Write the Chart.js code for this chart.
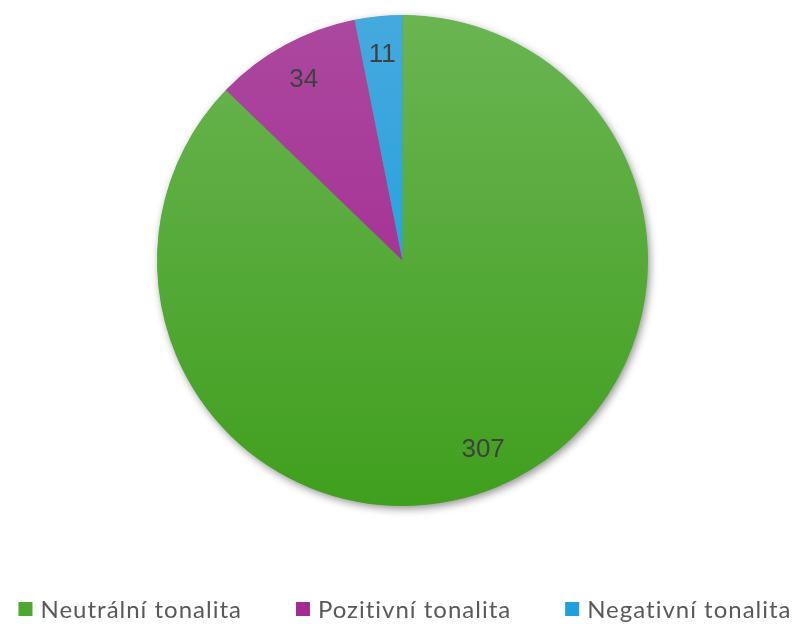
<!DOCTYPE html>
<html>
<head>
<meta charset="utf-8">
<script src="https://cdn.jsdelivr.net/npm/chart.js@4/dist/chart.umd.min.js"></script>
<style>
html,body{margin:0;padding:0;background:#fff;}
#wrap{width:800px;height:624px;position:relative;}
</style>
</head>
<body>
<div id="wrap"><canvas id="c" width="800" height="624"></canvas></div>
<script>
const categories = ["Neutrální tonalita", "Pozitivní tonalita", "Negativní tonalita"];
const values = [307, 34, 11];
const colorTop = ["#6ab552", "#ac489f", "#45a9de"];
const colorBottom = ["#409f1e", "#a1218d", "#0e9cdb"];
const legendColors = ["#4ea82f", "#a52a92", "#1fa0dc"];

function makeGrad(chart, i) {
  const a = chart.chartArea;
  if (!a) return colorBottom[i];
  const g = chart.ctx.createLinearGradient(0, a.top, 0, a.bottom);
  g.addColorStop(0, colorTop[i]);
  g.addColorStop(1, colorBottom[i]);
  return g;
}

const shadowPlugin = {
  id: 'shadow',
  beforeDatasetsDraw(chart) {
    const meta = chart.getDatasetMeta(0);
    if (!meta.data.length) return;
    const arc = meta.data[0];
    const ctx = chart.ctx;
    ctx.save();
    ctx.shadowColor = 'rgba(0,0,0,0.45)';
    ctx.shadowBlur = 9;
    ctx.shadowOffsetX = 2;
    ctx.shadowOffsetY = 3;
    ctx.fillStyle = '#4ea82f';
    ctx.beginPath();
    ctx.arc(arc.x, arc.y, arc.outerRadius - 0.5, 0, Math.PI * 2);
    ctx.fill();
    ctx.restore();
  }
};

const labelPlugin = {
  id: 'labels',
  afterDatasetsDraw(chart) {
    const ctx = chart.ctx;
    const meta = chart.getDatasetMeta(0);
    ctx.save();
    ctx.font = '26px "Liberation Sans", Arial, sans-serif';
    ctx.fillStyle = '#404040';
    ctx.textAlign = 'center';
    ctx.textBaseline = 'middle';
    meta.data.forEach((arc, i) => {
      const mid = (arc.startAngle + arc.endAngle) / 2;
      const r = arc.outerRadius * 0.84;
      ctx.fillText(String(values[i]), arc.x + Math.cos(mid) * r, arc.y + Math.sin(mid) * r);
    });
    ctx.restore();
  }
};

const legendPlugin = {
  id: 'customLegend',
  afterDraw(chart) {
    const ctx = chart.ctx;
    ctx.save();
    ctx.font = '24px Lato, "Open Sans", sans-serif';
    ctx.letterSpacing = '1px';
    ctx.textBaseline = 'middle';
    const box = 14, gapBox = 8, gapItem = 54;
    const widths = categories.map(t => ctx.measureText(t).width);
    const total = widths.reduce((s, w) => s + box + gapBox + w, 0) + gapItem * (categories.length - 1);
    let x = (chart.width - total) / 2 + 5;
    const y = 609;
    categories.forEach((t, i) => {
      ctx.fillStyle = legendColors[i];
      ctx.fillRect(x, y - box / 2, box, box);
      x += box + gapBox;
      ctx.fillStyle = '#595959';
      ctx.fillText(t, x, y + 1);
      x += widths[i] + gapItem;
    });
    ctx.restore();
  }
};

new Chart(document.getElementById('c'), {
  type: 'pie',
  data: {
    labels: categories,
    datasets: [{
      data: values,
      backgroundColor: (ctx) => makeGrad(ctx.chart, ctx.dataIndex),
      borderWidth: 0,
      hoverOffset: 0
    }]
  },
  options: {
    responsive: false,
    animation: false,
    layout: { padding: { top: 15, bottom: 118, left: 5, right: 0 } },
    plugins: {
      legend: { display: false },
      tooltip: { enabled: false }
    }
  },
  plugins: [shadowPlugin, labelPlugin, legendPlugin]
});
</script>
</body>
</html>
